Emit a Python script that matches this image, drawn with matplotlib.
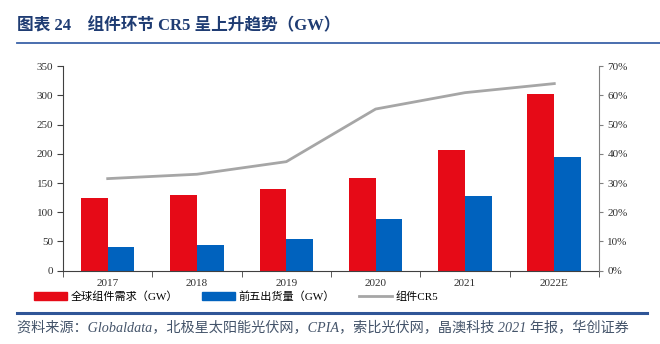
import numpy as np
import matplotlib.pyplot as plt
from matplotlib.lines import Line2D

plt.rcParams['font.family'] = ['Noto Sans CJK SC', 'DejaVu Sans']

years = ["2017", "2018", "2019", "2020", "2021", "2022E"]
demand = [125, 129, 140, 158, 206, 302]      # 全球组件需求 (GW)
top5 = [40, 44, 54, 88, 127, 195]            # 前五出货量 (GW)
cr5 = [31.5, 33.0, 37.3, 55.3, 60.9, 64.0]   # 组件CR5 (%)

red = "#E60A17"
blue = "#0062BE"
grey = "#A6A6A6"
navy = "#1F3C73"
serif = "Liberation Serif"
mixed = ["Liberation Serif", "Noto Sans CJK SC"]

fig = plt.figure(figsize=(6.6, 3.44), dpi=100)
ax = fig.add_axes([0.0955, 0.213, 0.812, 0.595])
ax2 = ax.twinx()

x = np.arange(len(years))
w = 0.30
ax.bar(x - w / 2, demand, w, color=red, zorder=2)
ax.bar(x + w / 2, top5, w, color=blue, zorder=2)
ax2.plot(x, cr5, color=grey, lw=2)

ax.set_xlim(-0.5, len(years) - 0.5)
ax.set_ylim(0, 350)
ax.set_yticks(range(0, 351, 50))
ax2.set_ylim(0, 70)
ax2.set_yticks(range(0, 71, 10))
ax2.set_yticklabels([f"{v}%" for v in range(0, 71, 10)])

ax.set_xticks(x)
ax.set_xticklabels(years)
ax.set_xticks(np.arange(-0.5, len(years)), minor=True)
ax.tick_params(axis="x", which="major", length=0, pad=6)
ax.tick_params(axis="x", which="minor", length=4, direction="out", color="#404040")
ax.tick_params(axis="y", length=4, direction="out", color="#404040", pad=3)
ax2.tick_params(axis="y", length=3, direction="out", color="#808080", pad=3)

for a in (ax, ax2):
    a.spines["top"].set_visible(False)
    for lab in a.get_xticklabels() + a.get_yticklabels():
        lab.set_fontfamily(serif)
        lab.set_fontsize(8)
        lab.set_color("#303030")
ax.spines["left"].set_color("#404040")
ax.spines["bottom"].set_color("#404040")
ax.spines["right"].set_visible(False)
ax2.spines["left"].set_visible(False)
ax2.spines["bottom"].set_visible(False)
ax2.spines["right"].set_color("#808080")

handles = [plt.Rectangle((0, 0), 1, 1, color=red),
           plt.Rectangle((0, 0), 1, 1, color=blue),
           Line2D([0], [0], color=grey, lw=2)]
labels = ["全球组件需求（GW）", "前五出货量（GW）", "组件CR5"]
fig.legend(handles, labels, loc="center", bbox_to_anchor=(0.358, 0.138), ncol=3,
           frameon=False, prop={"family": mixed, "size": 8}, handlelength=2.9,
           handleheight=0.8, columnspacing=2.2, handletextpad=0.35)

# title and rules
fig.text(0.026, 0.925, "图表 24    组件环节 CR5 呈上升趋势（GW）", fontsize=12,
         fontweight="bold", color=navy, va="center", family=mixed)
fig.add_artist(Line2D([0.026, 1.0], [0.875, 0.875], color="#3A62A8", lw=1.3))
fig.add_artist(Line2D([0.026, 0.98], [0.09, 0.09], color="#2F5597", lw=2.2))
fig.text(0.026, 0.046,
         "资料来源：Globaldata，北极星太阳能光伏网，CPIA，索比光伏网，晶澳科技 2021 年报，华创证券",
         fontsize=10.2, style="italic", color="#44546A", va="center", family=mixed)

fig.savefig("out.png", dpi=100)
